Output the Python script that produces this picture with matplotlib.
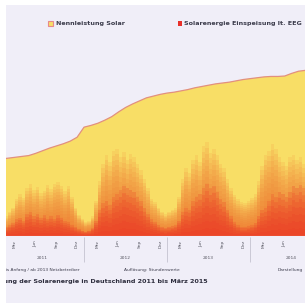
import numpy as np
import matplotlib
matplotlib.use("Agg")
import matplotlib.pyplot as plt
from matplotlib.patches import Rectangle
from matplotlib.transforms import blended_transform_factory

# Installierte Nennleistung Solar (GW), Monatsanfang ab Jan 2011
months = np.arange(52)
capacity = [17.6, 17.8, 18.0, 18.2, 18.4, 18.9, 19.5, 20.1, 20.6, 21.1, 21.7, 22.6,
            24.9, 25.3, 25.8, 26.5, 27.3, 28.4, 29.4, 30.2, 30.9, 31.6, 32.0, 32.4,
            32.7, 32.9, 33.2, 33.5, 33.9, 34.2, 34.5, 34.8, 35.0, 35.2, 35.5, 35.8,
            36.0, 36.2, 36.4, 36.5, 36.5, 36.6, 37.2, 37.7, 37.9, 38.0, 38.1, 38.2,
            38.3, 38.4, 38.5, 38.6]

# Einspeisung (GW), halbmonatlich: Spitzenwerte und typischer Bereich
half_month = np.arange(102) * 0.5 + 0.25
feed_peak = [3.5, 4.5, 5.5, 6.5, 8.5, 9.5, 8.8, 11.0, 11.8, 10.5, 11.2, 9.8,
             10.4, 11.6, 10.8, 12.0, 12.4, 11.5, 10.2, 11.4, 9.0, 6.5, 4.8, 4.0,
             3.2, 3.5, 4.5, 8.0, 12.5, 16.5, 18.5, 17.0, 19.5, 20.0, 18.0, 19.2,
             17.5, 18.8, 18.0, 16.5, 15.0, 13.0, 11.0, 8.5, 7.8, 6.5, 5.5, 5.0,
             5.5, 6.0, 6.4, 9.0, 13.0, 15.5, 14.5, 17.5, 18.5, 17.0, 20.5, 21.5,
             19.0, 20.0, 18.5, 16.5, 15.5, 13.0, 11.0, 9.4, 8.5, 7.8, 7.5, 8.0,
             8.7, 9.5, 12.5, 16.0, 18.5, 19.5, 21.0, 20.0, 18.0, 17.0, 16.0, 18.0,
             18.5, 17.5, 18.0, 16.5, 16.0, 14.0, 12.0, 11.0, 9.0, 7.5, 6.0, 5.5,
             5.5, 6.5, 8.0, 10.0, 12.0, 13.0]
feed_core = [1.5, 2.0, 2.5, 3.0, 3.8, 4.2, 3.5, 5.0, 5.5, 4.5, 5.0, 4.2,
             4.8, 4.0, 4.5, 4.0, 4.8, 4.2, 3.5, 3.2, 2.5, 2.0, 1.5, 1.2,
             1.0, 1.2, 1.8, 3.5, 6.0, 7.5, 8.0, 7.0, 9.0, 9.5, 10.5, 11.5,
             11.0, 10.5, 10.0, 9.0, 8.0, 6.5, 5.0, 3.8, 3.2, 2.5, 2.0, 1.8,
             2.0, 2.2, 2.5, 3.5, 5.5, 6.5, 6.0, 8.0, 9.0, 9.5, 11.0, 12.0,
             11.0, 11.5, 10.0, 8.5, 7.8, 6.0, 4.5, 3.2, 2.5, 2.0, 2.0, 2.2,
             2.5, 3.0, 4.5, 6.0, 6.5, 8.0, 9.5, 9.0, 10.0, 9.5, 9.0, 10.0,
             11.5, 11.0, 11.7, 11.0, 10.0, 8.5, 7.0, 5.5, 4.0, 3.0, 2.2, 1.8,
             1.8, 2.2, 3.0, 4.0, 5.0, 6.0]

tick_pos = list(range(2, 43, 3))
tick_names = ["Mrz", "Jun", "Sep", "Dez"]
tick_labels = [tick_names[i % 4] for i in range(len(tick_pos))]
years = ["2011", "2012", "2013", "2014"]

W, H = 305, 303
def fx(px): return px / W
def fy(py): return 1 - py / H

bg = "#f0eef8"
fig = plt.figure(figsize=(W / 100, H / 100), dpi=100)
fig.patch.set_facecolor(bg)

ax = fig.add_axes([fx(1), fy(236), 51 * 6.92 / W, (236 - 39.3) / H])
ax.set_facecolor(bg)
ax.set_xlim(0, 51)
ax.set_ylim(0, 45)
for s in ax.spines.values():
    s.set_visible(False)
ax.set_yticks([])

ax.fill_between(months, capacity, 0, color="#f8de66", lw=0, zorder=1)

peak = np.array(feed_peak)
core = np.array(feed_core)
for f in np.linspace(1.0, 0.06, 16):
    ax.bar(half_month, peak * f, width=0.5, color="#f07430", alpha=0.12, lw=0, zorder=2)
for f in np.linspace(1.0, 0.15, 7):
    ax.bar(half_month, core * f, width=0.5, color="#eb3a27", alpha=0.2, lw=0, zorder=3)

ax.plot(months, capacity, color="#e2907e", lw=0.9, zorder=4)
ax.axhline(0, color="#f3c6c0", lw=0.8, zorder=5)

ax.set_xticks(tick_pos)
ax.set_xticklabels(tick_labels, rotation=90, fontsize=3.2, color="#555560")
ax.tick_params(axis="x", length=0, pad=3)

tr = blended_transform_factory(ax.transData, fig.transFigure)
for i, y in enumerate(years):
    ax.text(6 + 12 * i, fy(258), y, transform=tr, ha="center", va="center",
            fontsize=3.2, color="#555560", clip_on=False)
ax.vlines([12, 24, 36], fy(262), fy(237), transform=tr, colors="#c4c2d0",
          lw=0.6, clip_on=False)

# Legende
fig.add_artist(Rectangle((fx(48), fy(26)), fx(5), 5 / H, facecolor="#f8df68",
                         edgecolor="#e88a8a", lw=0.8, transform=fig.transFigure))
fig.text(fx(56), fy(23.5), "Nennleistung Solar", fontsize=4.6, fontweight="bold",
         color="#3c3c4c", va="center")
fig.add_artist(Rectangle((fx(178), fy(25.5)), fx(4), 4 / H, facecolor="#e8302a",
                         edgecolor="none", transform=fig.transFigure))
fig.text(fx(184), fy(23.5), "Solarenergie Einspeisung lt. EEG", fontsize=4.6,
         fontweight="bold", color="#3c3c4c", va="center")

fig.text(fx(80), fy(270), "Quelle: EEX bis Anfang / ab 2013 Netzbetreiber", fontsize=3.2,
         color="#3c3c4c", ha="right", va="center")
fig.text(fx(152), fy(270), "Auflösung: Stundenwerte", fontsize=3.2,
         color="#3c3c4c", ha="center", va="center")
fig.text(fx(303), fy(270), "Darstellung", fontsize=3.2,
         color="#3c3c4c", ha="right", va="center")
fig.text(fx(208), fy(282), "Entwicklung der Solarenergie in Deutschland 2011 bis März 2015",
         fontsize=4.55, fontweight="bold", color="#2e2e3e", ha="right", va="center")

# weisser Rand links und oben
fig.add_artist(Rectangle((0, 0), fx(6), 1, facecolor="white", edgecolor="none",
                         transform=fig.transFigure, zorder=20))
fig.add_artist(Rectangle((0, fy(5)), 1, 5 / H, facecolor="white", edgecolor="none",
                         transform=fig.transFigure, zorder=20))

fig.savefig("out.png", dpi=100, facecolor=fig.get_facecolor())
